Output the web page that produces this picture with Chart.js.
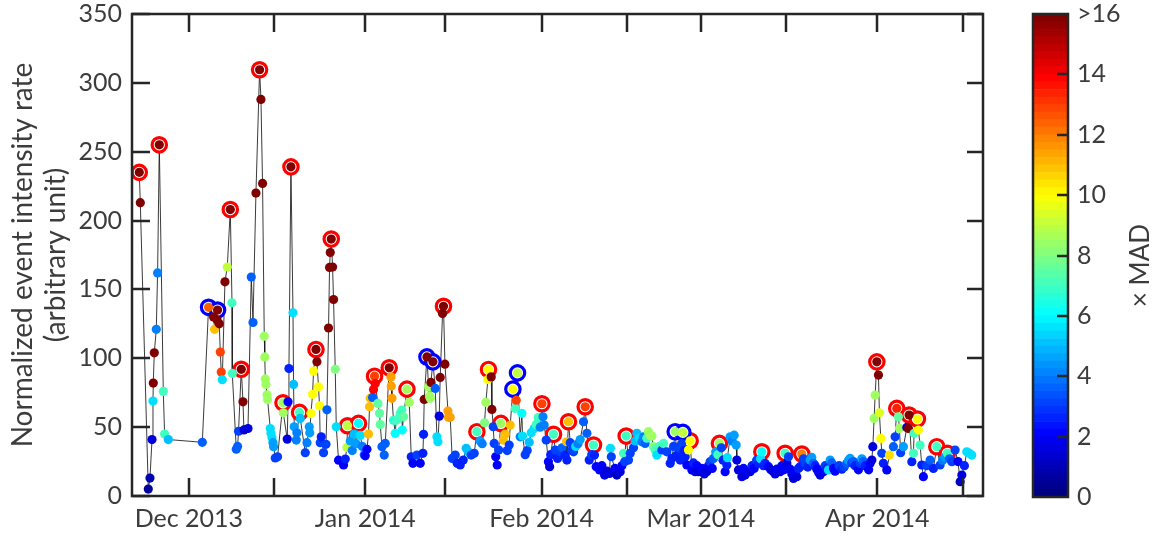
<!DOCTYPE html>
<html>
<head>
<meta charset="utf-8">
<script src="https://cdn.jsdelivr.net/npm/chart.js@4/dist/chart.umd.min.js"></script>
<style>
  html, body { margin: 0; padding: 0; background: #fff; }
  #wrap { position: relative; width: 1159px; height: 539px; }
  #mainBox { position: absolute; left: 0; top: 0; width: 1000px; height: 539px; }
  #cbarBox { position: absolute; left: 1000px; top: 0; width: 159px; height: 539px; }
</style>
</head>
<body>
<div id="wrap">
  <div id="mainBox"><canvas id="main"></canvas></div>
  <div id="cbarBox"><canvas id="cbar"></canvas></div>
</div>
<script>
// ---- data: days since 21 Nov 2013, rate, colour value (x MAD), ring (1 red, 2 blue)
const days = [
  1.28,1.46,2.86,3.16,3.52,3.69,3.74,3.92,4.27,4.50,4.80,5.50,5.73,6.38,
  12.36,13.46,14.34,14.52,14.94,15.04,15.34,15.52,15.69,15.87,
  16.34,16.75,17.28,17.58,17.63,18.33,18.56,18.73,19.21,19.51,
  19.68,20.39,20.97,21.27,21.79,22.43,22.67,22.95,23.25,23.34,
  23.43,23.55,23.73,23.83,24.31,24.43,24.61,24.78,24.89,25.18,
  25.59,26.54,26.59,27.29,27.43,27.59,27.94,28.30,28.40,28.52,
  28.88,28.99,29.46,29.58,30.46,30.76,31.16,31.25,31.46,31.74,
  31.92,32.34,32.51,32.79,32.97,33.09,33.27,33.67,34.10,34.27,
  34.55,34.73,34.85,35.03,35.26,35.43,35.73,35.91,36.31,37.19,
  37.49,37.79,37.89,38.37,38.72,39.07,39.42,39.82,40.12,40.48,
  40.83,41.00,41.30,41.58,41.76,41.88,42.29,42.46,42.64,42.76,
  43.23,43.52,43.64,43.94,44.34,44.52,45.22,45.52,45.57,45.70,
  45.98,46.28,46.45,46.86,47.15,47.45,47.51,47.73,48.33,48.74,
  49.09,49.39,50.09,50.67,51.14,51.25,51.37,51.85,52.13,52.31,
  52.43,52.55,52.90,53.31,53.60,53.78,54.01,54.18,54.59,54.76,
  55.01,55.54,55.64,55.94,56.29,56.82,57.17,57.70,58.23,58.75,
  59.10,59.63,60.16,60.63,61.21,61.56,61.97,62.21,62.56,62.67,
  63.15,63.27,63.50,63.67,63.94,64.20,64.46,64.85,65.26,65.61,
  65.96,66.31,66.49,66.96,67.37,67.54,67.77,68.24,68.54,68.65,
  69.12,69.47,69.83,70.18,70.71,71.06,71.41,71.76,72.06,
  72.25,72.46,72.81,73.2,73.42,73.6,74.10,74.40,74.81,75.28,
  75.6,76.16,76.4,76.45,76.73,77.04,77.33,77.62,78.0,78.4,
  78.79,79.37,79.67,79.97,80.38,80.8,81.13,81.3,81.6,82.2,
  82.6,83.08,83.5,83.96,84.1,84.26,84.9,85.24,85.82,86.12,
  86.41,86.6,86.87,87.28,87.58,88.16,88.45,88.75,89.2,89.63,
  89.92,90.21,90.5,90.79,91.1,91.39,91.67,91.97,92.27,92.7,
  93.15,93.43,94.03,94.61,94.91,95.2,95.49,95.79,96.1,96.37,
  96.6,96.84,97.05,97.25,97.54,97.82,98.12,98.42,98.7,99.0,
  99.3,99.58,100.17,100.6,101.05,101.35,101.63,102.0,102.22,102.6,
  103.0,103.27,103.6,103.9,104.27,104.57,104.67,105.15,105.5,105.86,
  106.21,106.33,106.61,107.21,107.5,107.79,108.2,108.67,109.0,109.37,
  109.8,110.13,110.5,110.72,111.0,111.30,111.89,112.3,112.76,113.06,
  113.36,113.94,114.25,114.52,114.82,115.12,115.40,115.70,116.0,116.28,
  116.6,116.87,117.15,117.45,117.75,118.05,118.33,118.8,119.21,119.5,
  119.79,120.1,120.39,120.7,120.97,121.25,121.55,121.85,122.15,122.43,
  122.73,123.02,123.32,123.6,123.90,124.3,124.78,125.2,125.66,125.95,
  126.24,126.52,126.82,127.1,127.42,127.7,128.0,128.3,128.58,128.9,
  129.18,129.5,129.76,130.06,130.23,
  130.46,130.64,130.94,131.22,131.39,131.64,131.81,132.09,132.69,133.15,
  133.85,134.15,134.44,134.73,134.91,135.12,135.61,136.21,136.49,136.61,
  137.09,137.37,137.49,138.07,138.25,138.54,138.84,139.12,139.7,140.30,
  140.88,141.48,142.06,142.5,142.94,143.34,143.7,144.12,144.70,145.2,
  145.58,145.88,146.33,146.75,147.2,147.63
];
const rate = [
  235,213,5,13,41,69,82,104,121,162,255,76,45,41,
  39,137,130,121,128,135,125,104.5,90,84.4,
  155.5,166.3,208,140.3,89,34,36,47,92,68.4,
  48,49,159,126,220,309.5,288,227,116,101,
  85,81,73.5,70,49,45.5,42.3,38.7,35.8,27.6,
  28.5,67.7,60.4,41.3,68.4,92.6,239,133,81,50.3,
  40.6,45.9,60.7,56.3,31.4,38.7,50.3,45.9,60,73.8,
  90.7,106.4,97.4,79.3,65.5,38.7,43,31.4,37.5,62.6,
  122,166,176.8,186.6,166.3,142.7,92,50.3,26,22.5,
  26.8,35.3,51,40,33,45,38,52.7,44,36,
  30,29.2,33.9,45,64.8,70.9,71.6,77.4,87,81.7,
  67.2,60,52,35.8,29.7,38.2,93.1,86.5,79.8,70.9,
  55,45.5,55,56.3,60,62.4,47.9,57.5,77.6,68,
  28.5,23.7,29.7,23.7,31,44.8,70.1,101,79.3,72.5,
  70.9,82.5,97.4,78.1,43,39.4,58,86.1,132.5,137.8,
  95.7,61.7,57.1,57.1,27.3,29.7,23.7,22.5,26.1,34.6,
  32.1,29.7,31,46.7,40,38,53.2,68,84.6,91.9,
  86.5,62.9,50.3,38.2,28.5,22.5,33.4,52.7,40.6,45,
  33,37,51.5,77.6,63.6,69.6,89.4,43,60,43.5,
  30,33,39,46,49,52,57,50,67,
  57.5,51.5,40.6,24.9,21.3,30,44.8,33.4,27.3,32.1,
  35,29.7,39.4,26.1,53.9,38.7,33.4,32.1,36,38,
  41,53.9,64.8,45.5,26.1,30,37,29.7,21.3,18.9,
  22,15.2,18,16.4,34.6,28.5,20,15.2,17.6,22,
  31,24.9,43.5,26.1,31,35,40,45.5,42,39.4,
  43,38.2,42,46.7,44,43.5,35.8,33.4,29.7,36,
  33.4,38.2,32.1,23.7,27.3,36,46.7,29.7,35,26.1,
  38,46.2,33,28.5,22.5,33.4,40.1,18.9,24,17.6,
  22,17.6,20,16,17.6,22,24.9,20,27.3,32,
  30,38.2,35,26,17.6,22.5,27.8,43,40,44.2,
  37,26.1,18.9,14,20,15.2,18,17.6,22,20,
  26,23.7,27,32.1,22,23.7,21.3,19,17.6,16,
  19.5,17.6,22,18.9,31,24,28.5,19.5,16,12.8,
  16,14,20,21.3,30.5,27,23.7,21,26.1,28,
  23.7,22,19.5,17,15.2,19,17.6,22,20,18.9,
  26.1,24,20,18,19.5,22,19.5,21,23.7,26,
  27.3,24,25,22,21.3,19,23.7,27,25,22,
  21.3,19,23.7,26.1,35.8,
  56.3,73.3,97.4,87.8,60.4,41.8,31,23.7,18.9,29.7,
  35.8,43,63.6,57.5,49.1,31.4,35.8,49.8,49.1,58.8,
  24.9,31,45.5,55.9,47.9,37,22.5,14,22,26.1,
  20,35.8,22.5,26,28.5,31,27,24.9,33.4,25,
  10.4,15.2,22,32.1,31,29.7
];
const mad = [
  17,17,0.5,0.8,1.5,5.5,17,17,4,4,17,7,7,5,
  3.5,12.5,17,11,17,17,17,13,13,5.5,
  17,9,17,7,7,3.5,3.5,3,17,17,
  1.5,1.5,3.5,3.5,17,17,17,17,8.5,8.5,
  8.5,8.5,8.5,8.5,5.5,5.5,5.5,4.5,4.5,3,
  3,8.5,8.5,1.5,2,2.5,17,5.5,5,4.5,
  4,4,7,5,3,4,4.5,4.5,10,10,
  10,17,17,10,10,3,2.5,3,3,3.5,
  17,17,17,17,17,17,8,5.5,2,2,
  2.5,9,9,4.5,4,5,4.5,6,5.5,4,
  3.5,2,2,11,11,11,3.5,14,13,14,
  7.5,7.5,7.5,3.5,3.5,3.5,17,11.5,11.5,11.5,
  6.5,6,7,7,7,7,6,7.5,8.5,8.5,
  2.5,2,3,2,2.5,2.5,17,17,8.5,8.5,
  8.5,17,17,3.5,5.5,5.5,1.5,17,17,17,
  17,11.5,11.5,11.5,3,3,2.5,2.5,2.5,5,
  5,3,3,7,4.5,4,8,8.5,10,10,
  17,17,3,3,2,2,3,8.5,11,11,
  3,3,11,10,7,13,9,4,6,5.5,
  3,3,5,5.5,5.5,7,7,4,13,
  4,4,3,2,1.5,2.5,7,3,2.5,3,
  3.5,2.5,11,2.5,11,3,3,3,5.5,4,
  4.5,3.5,13,3.5,2.5,3,7,2.5,2,2,
  2,1.5,1.5,1.5,5.5,3,2,1,1.5,2,
  7,3,7,3,3,3,5,5,5.5,4,
  4,3.5,7,8.5,8.5,8.5,8,7,5.5,7,
  3,7,3,2.5,2.5,3,8.5,2.5,3,2.5,
  3,9,2.5,2.5,2,10,10,2,2.5,1.5,
  2,1.5,2,1.5,1.5,2,3,2,3.5,4.5,
  7,8.5,3,2.5,2,2.5,5.5,4.5,4,4.5,
  4.5,1.5,1.5,1.5,2,1.5,2,1.5,2.5,2,
  3,2.5,5.5,6,2.5,2.5,2,1.5,1.5,1.5,
  2,1.5,2,2,7,1.5,3,2,1.5,1.5,
  2,1.5,2.5,2.5,12,3,3,2.5,4.5,4.5,
  3.5,2.5,2,2,1.5,2,2,3,2.5,5.5,
  4.5,3.5,2,2,2,3,2.5,3,3.5,4.5,
  4.5,3,3.5,2.5,2.5,2,3,4.5,3.5,2.5,
  2.5,2,2,1.5,1.5,
  8.5,8.5,17,17,9.5,10,3,2.5,2,10.5,
  3.5,3,13.5,7.5,8.5,3,4.5,1.5,17,17,
  2.5,7,7,10,10,7,2.5,2,3,3.5,
  2.5,7,3,4,4.5,7,3.5,3,3,2,
  1,1.5,2.5,5.5,5.5,5.5
];
const ring = [
  1,0,0,0,0,0,0,0,0,0,1,0,0,0,
  0,2,0,0,0,2,0,0,0,0,
  0,0,1,0,0,0,0,0,1,0,
  0,0,0,0,0,1,0,0,0,0,
  0,0,0,0,0,0,0,0,0,0,
  0,1,0,0,0,0,1,0,0,0,
  0,0,1,0,0,0,0,0,0,0,
  0,1,0,0,0,0,0,0,0,0,
  0,0,0,1,0,0,0,0,0,0,
  0,0,1,0,0,0,0,1,0,0,
  0,0,0,0,0,0,0,0,1,0,
  0,0,0,0,0,0,1,0,0,0,
  0,0,0,0,0,0,0,0,1,0,
  0,0,0,0,0,0,0,2,0,0,
  0,0,2,0,0,0,0,0,0,1,
  0,0,0,0,0,0,0,0,0,0,
  0,0,0,1,0,0,0,0,0,1,
  0,0,0,0,0,0,0,1,0,0,
  0,0,0,2,0,0,2,0,0,0,
  0,0,0,0,0,0,0,0,1,
  0,0,0,0,0,0,1,0,0,0,
  0,0,0,0,1,0,0,0,0,0,
  0,0,1,0,0,0,1,0,0,0,
  0,0,0,0,0,0,0,0,0,0,
  0,0,1,0,0,0,0,0,0,0,
  0,0,0,0,0,0,0,0,0,0,
  0,0,0,0,0,0,2,0,0,0,
  0,2,0,0,0,0,1,0,0,0,
  0,0,0,0,0,0,0,0,0,0,
  0,1,0,0,0,0,0,0,0,0,
  0,0,0,0,0,0,0,0,0,0,
  0,0,0,1,0,0,0,0,0,0,
  0,0,0,0,1,0,0,0,0,0,
  0,0,0,0,1,0,0,0,0,0,
  0,0,0,0,0,0,0,0,0,0,
  0,0,0,0,0,0,0,0,0,0,
  0,0,0,0,0,0,0,0,0,0,
  0,0,0,0,0,
  0,0,1,0,0,0,0,0,0,0,
  0,0,1,0,0,0,0,0,0,1,
  0,0,0,1,0,0,0,0,0,0,
  0,1,0,0,0,1,0,0,0,0,
  0,0,0,0,0,0
];

// x axis: day offsets of tick marks and their labels
const tickDays   = [10, 25, 41, 55, 72, 87, 100, 115, 131, 146];
const tickLabels = ['Dec 2013', '', 'Jan 2014', '', 'Feb 2014', '', 'Mar 2014', '', 'Apr 2014', ''];
const cbarTicks  = [0, 2, 4, 6, 8, 10, 12, 14, 16];
const cbarLevels = 64;

const FONT = 'Lato, "Open Sans", sans-serif';
const TXT = '#3c3c3c';
const AXIS = '#262626';

function jet(v) {
  var t = Math.max(0, Math.min(1, v / 16));
  var c = function(f) { return Math.round(255 * Math.max(0, Math.min(1, f))); };
  return 'rgb(' + c(Math.min(4*t - 1.5, -4*t + 4.5)) + ',' + c(Math.min(4*t - 0.5, -4*t + 3.5)) + ',' + c(Math.min(4*t + 0.5, -4*t + 2.5)) + ')';
}

const pts = days.map((d, i) => ({ x: d, y: rate[i] }));
const redPts = pts.filter((p, i) => ring[i] === 1);
const bluePts = pts.filter((p, i) => ring[i] === 2);

// frame + inward ticks, drawn over the data like a boxed axes
const boxTicks = {
  id: 'boxTicks',
  afterDatasetsDraw(chart) {
    const { ctx, chartArea: a } = chart;
    const xs = chart.scales.x, ys = chart.scales.y;
    ctx.save();
    ctx.strokeStyle = AXIS;
    ctx.lineWidth = 2.5;
    ctx.beginPath();
    xs.ticks.forEach(t => {
      const px = Math.round(xs.getPixelForValue(t.value));
      ctx.moveTo(px, a.bottom); ctx.lineTo(px, a.bottom - 18);
      ctx.moveTo(px, a.top); ctx.lineTo(px, a.top + 18);
    });
    ys.ticks.forEach(t => {
      const py = Math.round(ys.getPixelForValue(t.value));
      ctx.moveTo(a.left, py); ctx.lineTo(a.left + 18, py);
      ctx.moveTo(a.right, py); ctx.lineTo(a.right - 16, py);
    });
    ctx.stroke();
    ctx.strokeRect(a.left, a.top, a.right - a.left, a.bottom - a.top);
    ctx.restore();
  }
};

new Chart(document.getElementById('main'), {
  type: 'scatter',
  data: {
    datasets: [
      { data: pts, showLine: true, borderColor: 'rgba(25,25,25,0.85)', borderWidth: 1,
        pointRadius: 0, pointHoverRadius: 0, order: 4 },
      { data: redPts, pointRadius: 7.2, pointBorderWidth: 3.2, pointBorderColor: '#ff0000',
        pointBackgroundColor: '#ffffff', order: 3 },
      { data: bluePts, pointRadius: 7.2, pointBorderWidth: 3.2, pointBorderColor: '#0000ff',
        pointBackgroundColor: '#ffffff', order: 2 },
      { data: pts, pointRadius: 4.6, pointBorderWidth: 0,
        pointBackgroundColor: mad.map(jet), order: 1 }
    ]
  },
  options: {
    responsive: true, maintainAspectRatio: false, animation: false, devicePixelRatio: 1,
    layout: { padding: { top: 14, right: 17, left: 0, bottom: 0 } },
    plugins: { legend: { display: false }, tooltip: { enabled: false } },
    scales: {
      x: {
        type: 'linear', min: 0, max: 149.6,
        afterBuildTicks: s => { s.ticks = tickDays.map(v => ({ value: v })); },
        afterFit: s => { s.height = 43; s.paddingLeft = 0; s.paddingRight = 0; },
        ticks: {
          autoSkip: false, maxRotation: 0, padding: 8, color: TXT,
          font: { family: FONT, size: 25 },
          callback: (v) => { const k = tickDays.indexOf(v); return k >= 0 ? tickLabels[k] : ''; }
        },
        grid: { display: false, drawTicks: false },
        border: { display: false }
      },
      y: {
        min: 0, max: 350,
        afterFit: s => { s.width = 132; s.paddingTop = 0; s.paddingBottom = 0; },
        ticks: { stepSize: 50, padding: 10, color: TXT, font: { family: FONT, size: 25 } },
        grid: { display: false, drawTicks: false },
        border: { display: false },
        title: {
          display: true, color: TXT,
          text: ['Normalized event intensity rate', '(arbitrary unit)'],
          font: { family: FONT, size: 28, lineHeight: 1.2 },
          padding: { top: 6, bottom: 0 }
        }
      }
    }
  },
  plugins: [boxTicks]
});

// ---- colour bar
const cbarFrame = {
  id: 'cbarFrame',
  afterDatasetsDraw(chart) {
    const { ctx, chartArea: a } = chart;
    const ys = chart.scales.y;
    ctx.save();
    ctx.strokeStyle = AXIS;
    ctx.lineWidth = 2.5;
    ctx.beginPath();
    cbarTicks.slice(1, -1).forEach(v => {
      const py = Math.round(ys.getPixelForValue(v));
      ctx.moveTo(a.right, py); ctx.lineTo(a.right - 11, py);
    });
    ctx.stroke();
    ctx.strokeRect(a.left, a.top, a.right - a.left, a.bottom - a.top);
    ctx.translate(a.right + 73, (a.top + a.bottom) / 2 + 10);
    ctx.rotate(-Math.PI / 2);
    ctx.fillStyle = TXT;
    ctx.font = '26px ' + FONT;
    ctx.textAlign = 'center';
    ctx.textBaseline = 'middle';
    ctx.fillText('\u00d7 MAD', 0, 0);
    ctx.restore();
  }
};

const levelSets = [];
for (let k = 0; k < cbarLevels; k++) {
  levelSets.push({
    data: [16 / cbarLevels],
    backgroundColor: jet(k * 16 / (cbarLevels - 1)),
    borderWidth: 0, barPercentage: 1, categoryPercentage: 1
  });
}

new Chart(document.getElementById('cbar'), {
  type: 'bar',
  data: { labels: ['MAD'], datasets: levelSets },
  options: {
    responsive: true, maintainAspectRatio: false, animation: false, devicePixelRatio: 1,
    layout: { padding: { top: 14, left: 33, bottom: 42, right: 0 } },
    plugins: { legend: { display: false }, tooltip: { enabled: false } },
    scales: {
      x: { display: false, stacked: true },
      y: {
        position: 'right', stacked: true, min: 0, max: 16,
        afterBuildTicks: s => { s.ticks = cbarTicks.map(v => ({ value: v })); },
        afterFit: s => { s.width = 91; s.paddingTop = 0; s.paddingBottom = 0; },
        ticks: {
          padding: 9, color: TXT, font: { family: FONT, size: 25 },
          callback: v => (v >= 16 ? '>16' : String(v))
        },
        grid: { display: false, drawTicks: false },
        border: { display: false }
      }
    }
  },
  plugins: [cbarFrame]
});
</script>
</body>
</html>
